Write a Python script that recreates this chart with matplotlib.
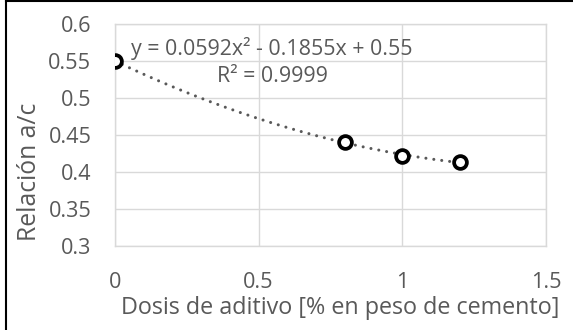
import matplotlib
matplotlib.use("Agg")
import matplotlib.pyplot as plt
import numpy as np
from matplotlib.lines import Line2D

plt.rcParams['font.family'] = ['Open Sans', 'DejaVu Sans']

dosis = [0.0, 0.8, 1.0, 1.2]
relacion = [0.55, 0.44, 0.422, 0.413]
coef = [0.0592, -0.1855, 0.55]
xticks = [0, 0.5, 1, 1.5]
yticks = [0.3, 0.35, 0.4, 0.45, 0.5, 0.55, 0.6]
xlabel = "Dosis de aditivo [% en peso de cemento]"
ylabel = "Relación a/c"
eq_text = "y = 0.0592x² - 0.1855x + 0.55"
r2_text = "R² = 0.9999"

W, H = 573, 330
fig = plt.figure(figsize=(W/100, H/100), dpi=100)
ax = fig.add_axes([115/W, 1-246/H, (546-115)/W, (246-24)/H])

txt = '#595959'
grid = '#d9d9d9'

xs = np.linspace(min(dosis), max(dosis), 200)
ys = np.polyval(coef, xs)
ax.plot(xs, ys, color='#595959', lw=2.2, linestyle=(0, (0.01, 2.6)),
        dash_capstyle='round', zorder=2)
ax.plot(dosis, relacion, linestyle='none', marker='o', ms=9.2, mew=2.7,
        mfc='white', mec='black', zorder=3)

ax.set_xlim(0, 1.5)
ax.set_ylim(0.3, 0.6)
ax.set_xticks(xticks)
ax.set_xticklabels([f"{v:g}" for v in xticks])
ax.set_yticks(yticks)
ax.set_yticklabels([f"{v:g}" for v in yticks])
ax.grid(True, color=grid, lw=1.0, zorder=0)
ax.set_axisbelow(True)
for s in ax.spines.values():
    s.set_color(grid)
    s.set_linewidth(1.0)
ax.tick_params(length=0, labelsize=15.6, colors=txt)
ax.tick_params(axis='y', pad=17)
ax.tick_params(axis='x', pad=19)

ax.text((272-115)/431, 1-(49-24)/222, eq_text, transform=ax.transAxes, ha='center', va='center',
        fontsize=15.4, color=txt)
ax.text((272-115)/431, 1-(77-24)/222, r2_text, transform=ax.transAxes, ha='center', va='center',
        fontsize=15.4, color=txt)

fig.text(340/W, 1-308/H, xlabel, ha='center', va='center', fontsize=16.8, color=txt)
fig.text(30/W, 1-172/H, ylabel, ha='center', va='center', rotation=90, fontsize=17.8, color=txt)

fig.add_artist(Line2D([6/W, 6/W], [0, 1], color='black', lw=1.5, transform=fig.transFigure))
fig.add_artist(Line2D([6/W, 1], [1-1/H, 1-1/H], color='black', lw=1.5, transform=fig.transFigure))

fig.savefig("out.png", dpi=100)
